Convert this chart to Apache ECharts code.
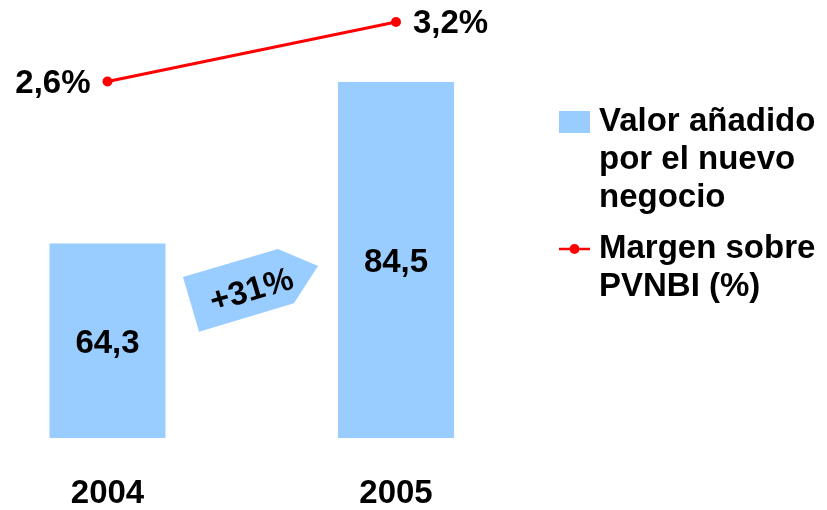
<!DOCTYPE html>
<html>
<head>
<meta charset="utf-8">
<script src="https://cdn.jsdelivr.net/npm/echarts@6/dist/echarts.min.js"></script>
<style>
html,body{margin:0;padding:0;background:#fff;}
#chart{width:827px;height:510px;}
</style>
</head>
<body>
<div id="chart"></div>
<script>
const categories = ['2004', '2005'];
const valorAnadido = [64.3, 84.5];
const margen = [2.6, 3.2];
const seriesNames = ['Valor añadido por el nuevo negocio', 'Margen sobre PVNBI (%)'];
const legendLabels = ['\n\nValor añadido\npor el nuevo\nnegocio', '\nMargen sobre\nPVNBI (%)'];
const growthLabel = '+' + Math.round((valorAnadido[1] / valorAnadido[0] - 1) * 100) + '%';

const FONT = 'Liberation Sans, Arial, sans-serif';
const FS = 33;
const fmt = v => v.toFixed(1).replace('.', ',');

const chart = echarts.init(document.getElementById('chart'), null, {renderer: 'canvas'});

const linePath = 'path://M0,0L0.01,0L0.01,0.01Z M31,22L30.99,22L30.99,21.99Z ' +
  'M0,9.7L10.5,9.7L10.5,12.3L0,12.3Z M20.5,9.7L31,9.7L31,12.3L20.5,12.3Z ' +
  'M10.5,11A5,5 0 1,0 20.5,11A5,5 0 1,0 10.5,11Z';

const option = {
  animation: false,
  backgroundColor: '#ffffff',
  grid: {left: 107.5, right: 431, top: 22, bottom: 69.5, containLabel: false},
  xAxis: {
    type: 'category',
    data: categories,
    boundaryGap: false,
    axisLine: {show: false},
    axisTick: {show: false},
    splitLine: {show: false},
    axisLabel: {
      margin: 39,
      color: '#000',
      fontFamily: FONT,
      fontWeight: 'bold',
      fontSize: FS
    }
  },
  yAxis: [
    {type: 'value', min: 40, max: 92, startValue: 40, show: false, splitLine: {show: false}},
    {type: 'value', min: -1, max: 3.2, show: false, splitLine: {show: false}}
  ],
  legend: {
    orient: 'vertical',
    left: 559,
    top: 27,
    padding: 0,
    itemGap: -25,
    itemWidth: 31,
    itemHeight: 22,
    selectedMode: false,
    itemStyle: {borderWidth: 0},
    formatter: name => legendLabels[seriesNames.indexOf(name)],
    textStyle: {
      color: '#000',
      fontFamily: FONT,
      fontWeight: 'bold',
      fontSize: FS,
      lineHeight: 38,
      padding: [0, 0, 0, 4]
    },
    data: [
      {name: seriesNames[0], icon: 'rect'},
      {name: seriesNames[1], icon: linePath}
    ]
  },
  series: [
    {
      name: seriesNames[0],
      type: 'bar',
      yAxisIndex: 0,
      data: valorAnadido,
      barWidth: 116,
      clip: false,
      itemStyle: {color: '#99CCFF'},
      label: {
        show: true,
        position: 'inside',
        offset: [0, 3],
        color: '#000',
        fontFamily: FONT,
        fontWeight: 'bold',
        fontSize: FS,
        formatter: p => fmt(p.value)
      }
    },
    {
      name: seriesNames[1],
      type: 'line',
      yAxisIndex: 1,
      data: margen.map((v, i) => ({
        value: v,
        label: {position: i === 0 ? 'left' : 'right'}
      })),
      clip: false,
      symbol: 'circle',
      symbolSize: 10,
      itemStyle: {color: '#FF0000', borderWidth: 0},
      lineStyle: {color: '#FF0000', width: 3},
      label: {
        show: true,
        distance: 12,
        offset: [0, 2],
        color: '#000',
        fontFamily: FONT,
        fontWeight: 'bold',
        fontSize: FS,
        formatter: p => fmt(p.value) + '%'
      }
    }
  ],
  graphic: [
    {
      type: 'group',
      x: 183,
      y: 277,
      rotation: 0.286,
      children: [
        {
          type: 'polygon',
          shape: {points: [[0, 0], [99, 0], [132.6, 27.6], [99, 56.5], [0, 57]]},
          style: {fill: '#99CCFF'}
        },
        {
          type: 'text',
          x: 62,
          y: 33,
          style: {
            text: growthLabel,
            fill: '#000',
            font: 'bold ' + FS + 'px ' + FONT,
            align: 'center',
            verticalAlign: 'middle'
          }
        }
      ]
    }
  ]
};

chart.setOption(option);
</script>
</body>
</html>
